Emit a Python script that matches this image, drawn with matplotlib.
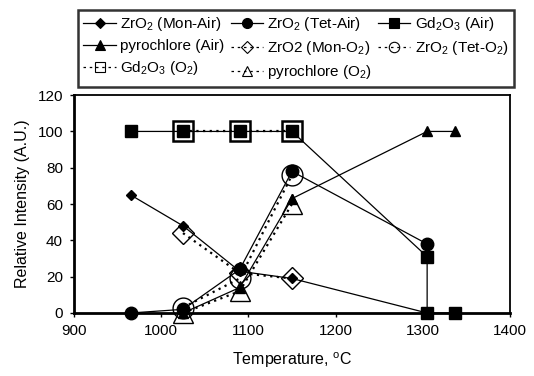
import matplotlib
matplotlib.use('Agg')
import matplotlib.pyplot as plt
from matplotlib.lines import Line2D

plt.rcParams['font.family'] = ['Liberation Sans', 'DejaVu Sans']
plt.rcParams['mathtext.default'] = 'regular'
plt.rcParams['font.size'] = 11

# data
temps_air = [965, 1025, 1090, 1150, 1305]
mon_air = [65, 48, 23, 19, 0]
tet_air = [0, 2, 24, 78, 38]

temps_gd_air = [965, 1025, 1090, 1150, 1305, 1305, 1337]
gd_air = [100, 100, 100, 100, 31, 0, 0]

temps_pyro_air = [1025, 1090, 1150, 1305, 1337]
pyro_air = [0, 14, 63, 100, 100]

temps_o2 = [1025, 1090, 1150]
mon_o2 = [44, 22, 19]
tet_o2 = [3, 19, 76]
gd_o2 = [100, 100, 100]
pyro_o2 = [0, 12, 60]

x_ticks = [900, 1000, 1100, 1200, 1300, 1400]
y_ticks = [0, 20, 40, 60, 80, 100, 120]

fig = plt.figure(figsize=(5.34, 3.76), dpi=100)
ax = fig.add_axes([0.1386, 0.1676, 0.8164, 0.5794])

dot = (0, (1, 2))
# O2 series: open markers, dotted lines (drawn underneath)
h_mon_o2, = ax.plot(temps_o2, mon_o2, linestyle=dot, color='black', lw=1.6,
                    marker='D', ms=11, mfc='none', mec='black', mew=1, zorder=2, clip_on=False)
h_tet_o2, = ax.plot(temps_o2, tet_o2, linestyle=dot, color='black', lw=1.6,
                    marker='o', ms=15, mfc='none', mec='black', mew=1, zorder=2, clip_on=False)
h_gd_o2, = ax.plot(temps_o2, gd_o2, linestyle=dot, color='black', lw=1.6,
                   marker='s', ms=14, mfc='none', mec='black', mew=1.8, zorder=2, clip_on=False)
h_pyro_o2, = ax.plot(temps_o2, pyro_o2, linestyle=dot, color='black', lw=1.6,
                     marker='^', ms=14, mfc='none', mec='black', mew=1, zorder=2, clip_on=False)

# Air series: filled markers, solid lines
h_mon_air, = ax.plot(temps_air, mon_air, '-', color='black', lw=0.9,
                     marker='D', ms=5, zorder=3, clip_on=False)
h_tet_air, = ax.plot(temps_air, tet_air, '-', color='black', lw=0.9,
                     marker='o', ms=9, zorder=3, clip_on=False)
h_gd_air, = ax.plot(temps_gd_air, gd_air, '-', color='black', lw=0.9,
                    marker='s', ms=8, zorder=3, clip_on=False)
h_pyro_air, = ax.plot(temps_pyro_air, pyro_air, '-', color='black', lw=0.9,
                      marker='^', ms=7, zorder=3, clip_on=False)

ax.set_xlim(900, 1400)
ax.set_ylim(0, 120)
ax.set_xticks(x_ticks)
ax.set_yticks(y_ticks)
ax.tick_params(direction='out', length=3, width=1, labelsize=11, pad=5)
for side in ['left', 'bottom']:
    ax.spines[side].set_linewidth(2)
for side in ['top', 'right']:
    ax.spines[side].set_linewidth(1.3)

ax.set_xlabel('Temperature, $^{o}$C', fontsize=11.5, labelpad=9)
ax.set_ylabel('Relative Intensity (A.U.)', fontsize=11.5, labelpad=5)

# legend: filled row-wise in the picture, matplotlib fills column-wise
def leg_handle(line, ms_scale):
    return Line2D([], [], color='black', linestyle='-' if line.get_linestyle() == '-' else (0, (2, 3)),
                  lw=0.9, marker=line.get_marker(), ms=line.get_markersize() * ms_scale,
                  mfc=line.get_markerfacecolor(), mec='black', mew=0.8)

order = [
    (h_mon_air, 'ZrO$_2$ (Mon-Air)', 1.0),
    (h_pyro_air, 'pyrochlore (Air)', 1.0),
    (h_gd_o2, 'Gd$_2$O$_3$ (O$_2$)', 0.5),
    (h_tet_air, 'ZrO$_2$ (Tet-Air)', 0.8),
    (h_mon_o2, 'ZrO2 (Mon-O$_2$)', 0.6),
    (h_pyro_o2, 'pyrochlore (O$_2$)', 0.5),
    (h_gd_air, 'Gd$_2$O$_3$ (Air)', 0.9),
    (h_tet_o2, 'ZrO$_2$ (Tet-O$_2$)', 0.5),
]
handles = [leg_handle(h, s) for h, _, s in order]
labels = [lab for _, lab, _ in order]
leg = fig.legend(handles, labels, loc='upper left', bbox_to_anchor=(0.132, 0.994),
                 ncol=3, fontsize=11, frameon=True, fancybox=False,
                 edgecolor='black', handlelength=2.1, handletextpad=0.3,
                 columnspacing=0.4, labelspacing=0.4, borderpad=0.35)
leg.get_frame().set_linewidth(1.8)

fig.savefig('out.png', dpi=100)
